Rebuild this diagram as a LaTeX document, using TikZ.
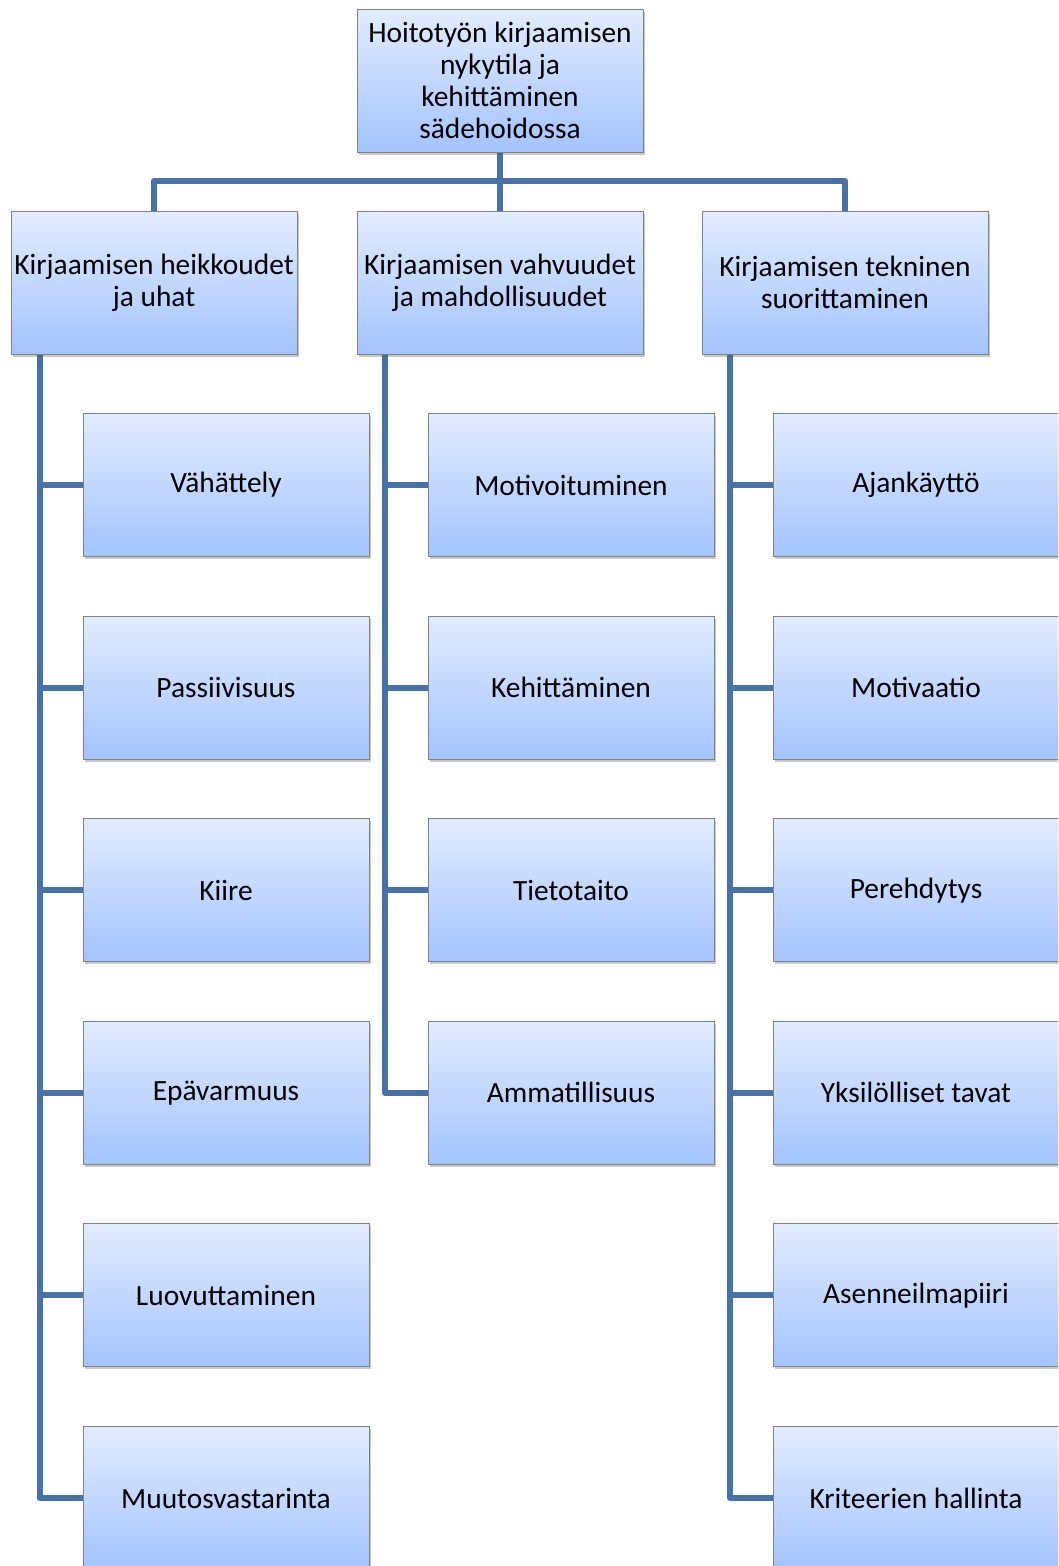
\documentclass[tikz,border=0pt]{standalone}
\usepackage{fontspec}
\setmainfont{Carlito}
\usetikzlibrary{positioning, shadows, calc, backgrounds}
\definecolor{KaaviSini}{RGB}{70,114,168}
\definecolor{LaatikkoYla}{RGB}{226,236,255}
\definecolor{LaatikkoAla}{RGB}{163,196,255}
\definecolor{Reuna}{RGB}{130,130,130}

\begin{document}
\begin{tikzpicture}[x=1pt, y=-1pt,
    box/.style={draw=Reuna, line width=1pt, top color=LaatikkoYla, bottom color=LaatikkoAla,
                minimum width=286pt, minimum height=143pt, inner sep=0pt, align=center,
                font=\fontsize{29.4}{32}\selectfont,
                drop shadow={shadow xshift=1.5pt, shadow yshift=-2.5pt, opacity=0.3, fill=black!70}},
    link/.style={KaaviSini, line width=6pt, line join=round}]
    \useasboundingbox (0,0) rectangle (1058,1566);
    \clip (0,0) rectangle (1058,1566);

    % ylin taso
    \node[box] (juuri)  at (500,80.5)  {Hoitotyön kirjaamisen\\nykytila ja\\kehittäminen\\sädehoidossa};
    \node[box] (heikko) at (154,282.5) {Kirjaamisen heikkoudet\\ja uhat};
    \node[box] (vahva)  at (500,282.5) {Kirjaamisen vahvuudet\\ja mahdollisuudet};
    \node[box] (tekn)   at (845,282.5) {Kirjaamisen tekninen\\suorittaminen};

    % alakohdat
    \foreach \teksti [count=\i] in {Vähättely, Passiivisuus, Kiire, Epävarmuus, Luovuttaminen, Muutosvastarinta}
        \node[box] (h\i) at (226,485+202.6*\i-202.6) {\teksti};
    \foreach \teksti [count=\i] in {Motivoituminen, Kehittäminen, Tietotaito, Ammatillisuus}
        \node[box] (v\i) at (571,485+202.6*\i-202.6) {\teksti};
    \foreach \teksti [count=\i] in {Ajankäyttö, Motivaatio, Perehdytys, Yksilölliset tavat, Asenneilmapiiri, Kriteerien hallinta}
        \node[box] (t\i) at (916,485+202.6*\i-202.6) {\teksti};

    % yhdysviivat
    \begin{scope}[on background layer]
        \coordinate (haara) at (500,181);
        \draw[link] (juuri.south) -- (vahva.north);
        \draw[link] (heikko.north) |- (haara) -| (tekn.north);
        \foreach \i in {1,...,6}
            \draw[link] ($(heikko.south west)+(29,0)$) |- (h\i.west);
        \foreach \i in {1,...,4}
            \draw[link] ($(vahva.south west)+(28.5,0)$) |- (v\i.west);
        \foreach \i in {1,...,6}
            \draw[link] ($(tekn.south west)+(28.5,0)$) |- (t\i.west);
    \end{scope}
\end{tikzpicture}
\end{document}
